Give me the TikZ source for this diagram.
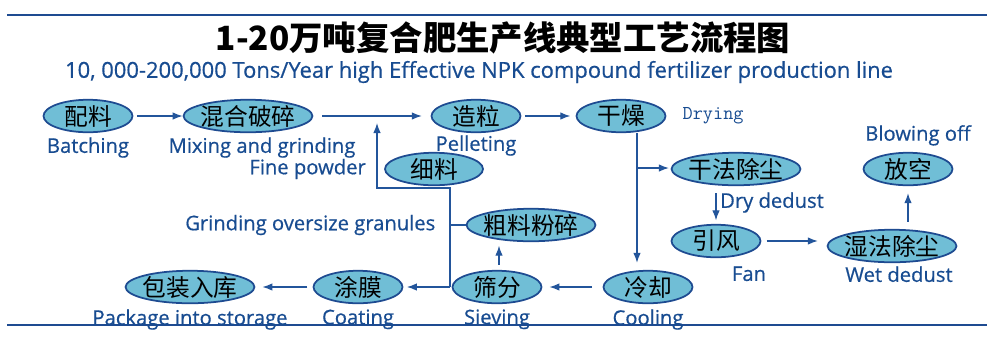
\documentclass[tikz,border=0pt]{standalone}
\usepackage{fontspec}
\setmainfont{Open Sans}
\newfontfamily\lblfont[FakeBold=0.6]{Open Sans}
\newfontfamily\cjk{Noto Sans CJK SC}
\usetikzlibrary{shapes.geometric,arrows.meta,positioning,calc}
\usepackage{xcolor}
\definecolor{procfill}{RGB}{112,190,214}
\definecolor{procline}{RGB}{30,75,145}
\definecolor{lblblue}{RGB}{24,76,145}
\definecolor{linecol}{RGB}{35,85,155}
% chinese text inside an ellipse, kept out of the shape size
\newcommand{\zh}[1]{\makebox[0pt]{\cjk #1}}

\begin{document}
\begin{tikzpicture}[x=0.02cm, y=-0.02cm,
  proc/.style={ellipse, draw=procline, fill=procfill, line width=1pt, inner sep=0pt,
    minimum width=1.78cm, minimum height=0.65cm, font=\fontsize{13.5}{15}\selectfont},
  wide/.style={proc, minimum width=2.58cm},
  lbl/.style={text=lblblue, inner sep=0pt, font=\lblfont\fontsize{11.5}{13}\selectfont},
  arr/.style={-{Latex[length=2mm,width=1.5mm]}, line width=0.7pt, draw=linecol},
  ln/.style={line width=0.7pt, draw=linecol}
]
\useasboundingbox (0,0) rectangle (1000,336);
\draw[procline, line width=1.2pt] (7,15) -- (987,15);
\draw[procline, line width=1.2pt] (7,325) -- (987,325);

\node[font=\cjk\bfseries\fontsize{19}{22}\selectfont] (title) at (503,38) {1-20万吨复合肥生产线典型工艺流程图};
\node[lbl, font=\lblfont\fontsize{12.5}{14}\selectfont] (subtitle) at (479,72) {10, 000-200,000 Tons/Year high Effective NPK compound fertilizer production line};

% main line
\node[proc] (peiliao) at (88,116) {\zh{配料}};
\node[wide] (hunhe) at (248,116) {\zh{混合破碎}};
\node[proc] (zaoli) at (476,116) {\zh{造粒}};
\node[proc] (ganzao) at (621,116) {\zh{干燥}};
\node[proc, minimum width=1.96cm] (xiliao) at (434,169) {\zh{细料}};
\node[wide] (culiao) at (531,225) {\zh{粗料粉碎}};
\node[proc] (shaifen) at (497,287) {\zh{筛分}};
\node[proc] (tumo) at (358,287) {\zh{涂膜}};
\node[wide] (baozhuang) at (190,287) {\zh{包装入库}};
\node[proc] (lengque) at (648,287) {\zh{冷却}};
% dust line
\node[wide] (ganfa) at (736,169) {\zh{干法除尘}};
\node[proc] (yinfeng) at (716,241) {\zh{引风}};
\node[wide] (shifa) at (892,246) {\zh{湿法除尘}};
\node[proc] (fangkong) at (908,169) {\zh{放空}};

% labels
\node[lbl, below=0.08cm of peiliao] (batching) {Batching};
\node[lbl, below=0.08cm of hunhe, xshift=0.28cm] (mixing) {Mixing and grinding};
\node[lbl, below=0.04cm of zaoli] (pelleting) {Pelleting};
\node[lbl, right=0.32cm of ganzao, font=\ttfamily\fontsize{11.2}{13}\selectfont] (drying) {Drying};
\node[lbl, left=0.36cm of xiliao] (finepowder) {Fine powder};
\node[lbl, left=0.6cm of culiao] (oversize) {Grinding oversize granules};
\node[lbl, below=0.1cm of shaifen] (sieving) {Sieving};
\node[lbl, below=0.1cm of tumo] (coating) {Coating};
\node[lbl, below=0.1cm of baozhuang] (package) {Package into storage};
\node[lbl, below=0.1cm of lengque] (cooling) {Cooling};
\node[lbl, below=0.12cm of ganfa, xshift=0.72cm] (drydedust) {Dry dedust};
\node[lbl, below=0.16cm of yinfeng, xshift=0.66cm] (fan) {Fan};
\node[lbl, below=0.06cm of shifa, xshift=0.14cm] (wetdedust) {Wet dedust};
\node[lbl, above=0.12cm of fangkong, xshift=0.2cm] (blowing) {Blowing off};

% junctions
\coordinate (fork) at (450,287);
\coordinate (ret) at (377,188);
\coordinate (dryfork) at (637,168);

\draw[arr, shorten <=2pt] (peiliao) -- (hunhe);
\draw[arr, shorten <=5pt, shorten >=5pt] (hunhe) -- (zaoli);
\draw[arr, shorten <=2pt, shorten >=3pt] (zaoli) -- (ganzao);
\draw[arr, shorten >=4pt] (fork) |- (ret) -- (ret |- hunhe.east);
\draw[ln] (culiao) -- (culiao.west -| fork);
\draw[arr, shorten <=3pt, shorten >=2pt] ([xshift=0.04cm]shaifen.north) -- ([xshift=0.04cm]shaifen.north |- culiao.south);
\draw[arr, shorten <=1pt, shorten >=2pt] (shaifen) -- (tumo);
\draw[arr, shorten <=3pt, shorten >=4pt] (tumo) -- (baozhuang);
\draw[arr, shorten <=6pt, shorten >=4pt] (lengque) -- (shaifen);
\draw[arr, shorten >=4pt] (ganzao.south -| dryfork) -- (lengque.north -| dryfork);
\draw[arr, shorten >=1pt] (dryfork) -- (ganfa.west |- dryfork);
\draw[arr, shorten <=4pt, shorten >=2pt] (ganfa.south -| yinfeng) -- (yinfeng.north);
\draw[arr, shorten <=3pt, shorten >=5pt] (yinfeng.east) -- (yinfeng.east -| shifa.west);
\draw[arr, shorten <=4pt, shorten >=4pt] (shifa.north -| fangkong) -- (fangkong.south);
\end{tikzpicture}
\end{document}
